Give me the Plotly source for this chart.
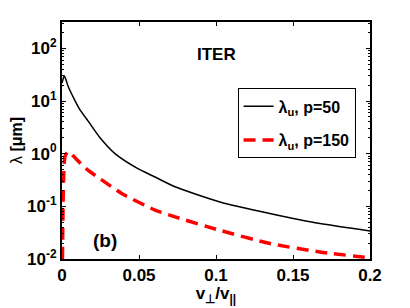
import plotly.graph_objects as go

x_p50 = [0.0, 0.0015, 0.0041, 0.0084, 0.0117, 0.0171, 0.0247, 0.0344, 0.0487, 0.0604, 0.0734, 0.1026, 0.135, 0.1675, 0.2]
y_p50 = [22, 30, 18.6, 10.2, 6.8, 4.1, 2.0, 1.0, 0.53, 0.36, 0.235, 0.121, 0.073, 0.047, 0.034]

x_p150 = [0.0003, 0.001, 0.002, 0.0041, 0.006, 0.01, 0.017, 0.025, 0.0388, 0.0604, 0.0734, 0.1026, 0.135, 0.1675, 0.2]
y_p150 = [0.01, 0.3, 0.9, 1.1, 1.0, 0.75, 0.48, 0.33, 0.175, 0.085, 0.063, 0.035, 0.0197, 0.0136, 0.0105]

x_ticks = [0, 0.05, 0.1, 0.15, 0.2]
x_ticklabels = ["0", "0.05", "0.1", "0.15", "0.2"]
y_ticks = [0.01, 0.1, 1, 10, 100]
y_ticklabels = ["10<sup>-2</sup>", "10<sup>-1</sup>", "10<sup>0</sup>", "10<sup>1</sup>", "10<sup>2</sup>"]

FONT = "Liberation Sans, Arial, sans-serif"

fig = go.Figure()
fig.add_trace(go.Scatter(x=x_p50, y=y_p50, mode="lines", name="λ<sub>u</sub>, p=50",
                         line=dict(color="black", width=1.5, shape="spline", smoothing=0.6),
                         legendgroup="a"))
fig.add_trace(go.Scatter(x=x_p150, y=y_p150, mode="lines", name="λ<sub>u</sub>, p=150",
                         line=dict(color="#ff0000", width=3.5, dash="12px,7px", shape="spline", smoothing=0.6),
                         legendgroup="b"))

fig.update_layout(
    width=400, height=298,
    margin=dict(l=54, r=38, t=14, b=47),
    paper_bgcolor="white", plot_bgcolor="white",
    font=dict(family=FONT, color="black", size=13),
    legend=dict(x=0.57, y=0.72, xanchor="left", yanchor="top",
                bordercolor="black", borderwidth=1, bgcolor="white",
                font=dict(family=FONT, size=16, weight="bold"),
                tracegroupgap=10, traceorder="grouped", itemwidth=30),
    xaxis=dict(range=[0, 0.2], tickvals=x_ticks, ticktext=x_ticklabels,
               ticks="inside", ticklen=4, tickwidth=1, tickcolor="black",
               showline=True, linecolor="black", linewidth=2, mirror="ticks",
               showgrid=False, zeroline=False, automargin=False,
               tickfont=dict(family=FONT, size=17, weight="bold"),
               title=dict(text="<b>v<sub>⊥</sub>/v<sub>||</sub></b>", font=dict(size=17), standoff=1)),
    yaxis=dict(type="log", range=[-2, 2.5], tickvals=y_ticks, ticktext=y_ticklabels,
               ticks="inside", ticklen=4, tickwidth=1, tickcolor="black",
               showline=True, linecolor="black", linewidth=2, mirror="ticks",
               showgrid=False, zeroline=False, automargin=False,
               minor=dict(ticks="inside", ticklen=2, tickcolor="black", dtick="D1"),
               tickfont=dict(family=FONT, size=17, weight="bold"),
               title=dict(text="λ <b>[μm]</b>", font=dict(size=16), standoff=2)),
    showlegend=True,
)

fig.add_annotation(x=0.100, y=1.886, xref="x", yref="y", text="<b>ITER</b>",
                   showarrow=False, font=dict(family=FONT, size=17))
fig.add_annotation(x=0.0276, y=-1.64, xref="x", yref="y", text="<b>(b)</b>",
                   showarrow=False, font=dict(family=FONT, size=19))

fig.write_html("out.html")
